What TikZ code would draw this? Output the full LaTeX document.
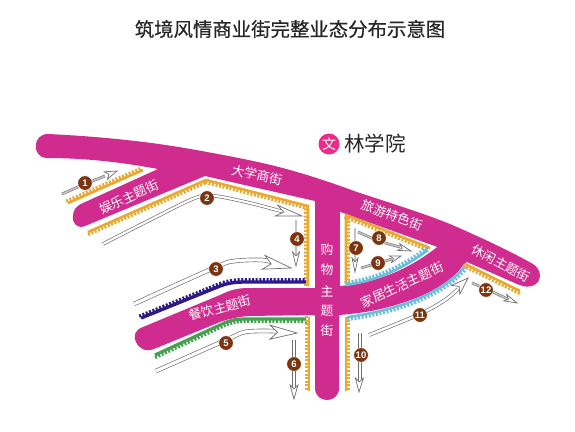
\documentclass[tikz,border=0pt]{standalone}
\usepackage{fontspec}
\setmainfont{Noto Sans CJK SC}
\newfontfamily\numfont{Liberation Sans}
\newfontfamily\titlefont{Noto Sans CJK SC}[FakeBold=0.35]
\usetikzlibrary{calc,decorations.pathreplacing}
\definecolor{roadpink}{HTML}{D02C8F}
\definecolor{logopink}{HTML}{EC2A8C}
\definecolor{combyellow}{HTML}{E9A92E}
\definecolor{combnavy}{HTML}{2C1A8C}
\definecolor{combgreen}{HTML}{45A050}
\definecolor{combblue}{HTML}{6CBFDC}
\definecolor{badgebrown}{HTML}{7A3510}
\definecolor{flowgray}{HTML}{6E6E6E}
\definecolor{flowcore}{HTML}{C4C4C4}
\tikzset{
  x=1pt,y=-1pt,
  roadlabel/.style={text=white,font=\fontsize{12.8}{13}\selectfont,inner sep=0pt},
  badge/.style={circle,fill=badgebrown,draw=white,line width=.4pt,minimum size=14.5pt,inner sep=0pt,text=white,font=\numfont\bfseries\fontsize{9.5}{10}\selectfont},
  combup/.style={decoration={ticks,segment length=3.6pt,amplitude=1.6pt,raise=2.4pt},decorate,line width=2pt},
  combdown/.style={decoration={ticks,segment length=3.6pt,amplitude=1.6pt,raise=-2.4pt},decorate,line width=2pt},
  headst/.style={draw=flowgray,fill=white,line width=.7pt,line join=miter},
}
% comb: colour, tooth style, base width, path
\newcommand\comb[4]{%
  \draw[#1,line width=#3pt] #4;
  \draw[#1,#2] #4;}
\newcommand\flowhead[4]{%
  \coordinate (hb) at ($(#2)!#3pt!(#1)$);
  \coordinate (hn) at ($(#2)!{0.72*#3pt}!(#1)$);
  \draw[headst] (#2) -- ($(hb)!#4pt!90:(#2)$) -- (hn) -- ($(hb)!#4pt!-90:(#2)$) -- cycle;}
% flow: shaft width, smooth coordinates, prev, tip, head length, half width
\newcommand\flow[6]{%
  \draw[flowgray,line width=#1pt+1.3pt] plot[smooth,tension=.55] coordinates {#2};
  \draw[white,line width=#1pt] plot[smooth,tension=.55] coordinates {#2};
  \flowhead{#3}{#4}{#5}{#6}}
% thin flow: the same with a grey core
\newcommand\thinflow[6]{%
  \draw[flowgray,line width=#1pt+1.1pt] plot[smooth,tension=.55] coordinates {#2};
  \draw[flowcore,line width=#1pt] plot[smooth,tension=.55] coordinates {#2};
  \flowhead{#3}{#4}{#5}{#6}}
\begin{document}
\begin{tikzpicture}
\useasboundingbox (0,0) rectangle (575,431);
\fill[white] (0,0) rectangle (575,431);
% road network
\fill[roadpink] (48,134)
  .. controls (110,137) and (160,143) .. (207,152)
  .. controls (240,158) and (265,163) .. (290,170)
  .. controls (315,177) and (335,184) .. (357,192)
  .. controls (390,203) and (420,212) .. (450,224)
  .. controls (480,237) and (510,251) .. (533,264)
  .. controls (541,269) and (542,279) .. (536,284)
  .. controls (530,288) and (524,287) .. (517,284)
  -- (467,262) -- (464,264)
  .. controls (450,285) and (420,297) .. (408,301)
  .. controls (385,309) and (365,313) .. (339,315)
  -- (339,388) .. controls (339,404) and (315,404) .. (315,388)
  -- (315,315) -- (248,316)
  .. controls (238,317) and (228,319) .. (220,322)
  -- (154,349)
  .. controls (146,352) and (139,349) .. (136,342)
  .. controls (133,335) and (135,330) .. (143,327)
  -- (220,295)
  .. controls (228,291) and (236,288) .. (248,288)
  -- (315,288) -- (315,201) -- (205,176) -- (85,226)
  .. controls (78,229) and (72,224) .. (73,216)
  .. controls (73,210) and (76,206) .. (83,203)
  -- (158,169)
  .. controls (120,162) and (85,158) .. (46,158)
  .. controls (32,157) and (32,134) .. (48,134) -- cycle;
% triangular block
\fill[white] (340,212) -- (437,247)
  .. controls (410,268) and (380,282) .. (340,286) -- cycle;
% combs
\comb{combyellow}{combup}{2.6}{(68,203) -- (143,170)}
\comb{combyellow}{combdown}{2.6}{(88,232) -- (206,180) -- (308,206) -- (308,286)}
\comb{combnavy}{combup}{3.4}{(141,318) -- (220,286) .. controls (228,283) and (235,282) .. (245,282) -- (306,282)}
\comb{combgreen}{combdown}{3.2}{(155,355) -- (220,325) .. controls (228,321) and (235,319) .. (245,319) -- (306,319)}
\comb{combyellow}{combdown}{2.6}{(309,317) -- (309,391)}
\comb{combyellow}{combup}{2.6}{(346,317) -- (346,391)}
\comb{combyellow}{combdown}{2.6}{(346,283) -- (346,215) -- (430,248)}
\comb{combblue}{combup}{2.6}{(346,285) .. controls (380,280) and (405,267) .. (428,250)}
\comb{combblue}{combdown}{2.6}{(348,317) .. controls (400,310) and (445,292) .. (465,266)}
\comb{combyellow}{combdown}{2.6}{(465,264) -- (520,291)}
% flows
\thinflow{1.6}{(62,194) (85,184) (105,176)}{85,184}{117,171}{12}{4}
\flow{2.2}{(103,244) (150,220) (195,198) (215,196) (250,203) (284,212)}{250,205}{302,216}{26}{5.5}
\flow{3.2}{(134,304) (216,267) (235,261) (262,260) (275,263)}{262,262}{291,268}{28}{7}
\thinflow{1.5}{(296,220) (296,255)}{296,240}{296,266}{14}{3.5}
\flow{3.2}{(156,371) (226,340) (245,332) (270,331) (282,332)}{262,332}{297,333}{27}{7}
\flow{1.8}{(294,340) (294,388)}{294,360}{294,399}{14}{4}
\thinflow{1.5}{(355,228) (355,262)}{355,245}{355,272}{14}{3}
\thinflow{1.5}{(358,232) (379,241) (400,247)}{380,241}{411,251}{13}{3.5}
\thinflow{1.5}{(361,268) (378,263) (392,259)}{378,263}{401,256}{11}{3.5}
\flow{1.8}{(360,333) (360,382)}{360,355}{359,392}{14}{4}
\flow{2.4}{(369,335) (420,314) (445,300) (458,289)}{445,300}{468,278}{17}{6}
\thinflow{1.5}{(472,283) (486,289) (508,299)}{486,289}{517,303}{13}{3.5}
% badges
\node[badge] (b1) at (85,183) {1};
\node[badge] (b2) at (207,198) {2};
\node[badge] (b3) at (216,269) {3};
\node[badge] (b4) at (297,239) {4};
\node[badge] (b5) at (226,343) {5};
\node[badge] (b6) at (294,364) {6};
\node[badge] (b7) at (356,248) {7};
\node[badge] (b8) at (379,238) {8};
\node[badge] (b9) at (378,263) {9};
\node[badge] (b10) at (361,355) {10};
\node[badge] (b11) at (420,315) {11};
\node[badge] (b12) at (486,290) {12};
% road labels
\node[roadlabel,rotate=-13] (l1) at (257,175) {大学商街};
\node[roadlabel,rotate=25] (l2) at (129,197) {娱乐主题街};
\node[roadlabel,rotate=-20] (l3) at (392,215) {旅游特色街};
\node[roadlabel,rotate=-28] (l4) at (501,263) {休闲主题街};
\node[roadlabel,rotate=25] (l5) at (402,285) {家居生活主题街};
\node[roadlabel,rotate=15] (l6) at (220,308) {餐饮主题街};
\node[roadlabel] (c1) at (327,250) {购};
\node[roadlabel] (c2) at (327,270) {物};
\node[roadlabel] (c3) at (327,291) {主};
\node[roadlabel] (c4) at (327,311) {题};
\node[roadlabel] (c5) at (327,331) {街};
% logo and title
\node[circle,fill=logopink,minimum size=21pt,inner sep=0pt,text=white,font=\fontsize{14}{15}\selectfont] (logo) at (329,144) {文};
\node[anchor=west,inner sep=0pt,text=black!85,font=\fontsize{20.5}{21}\selectfont] (school) at (344,144) {林学院};
\node[inner sep=0pt,text=black!85,font=\titlefont\fontsize{19.4}{20}\selectfont] (title) at (290,29) {筑境风情商业街完整业态分布示意图};
\end{tikzpicture}
\end{document}
